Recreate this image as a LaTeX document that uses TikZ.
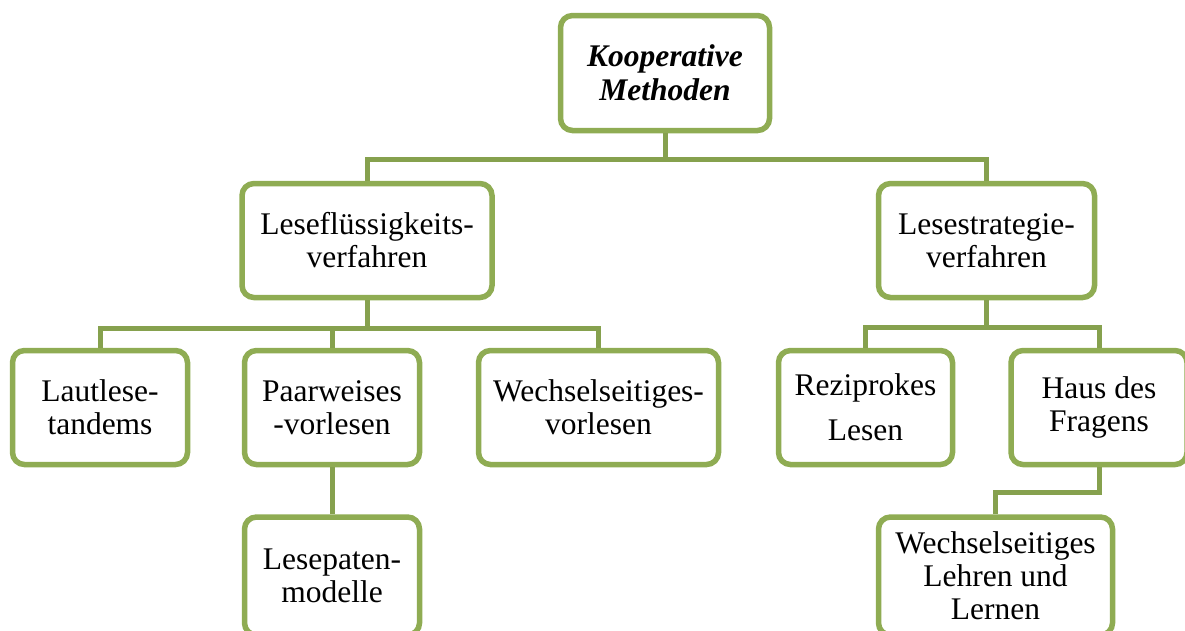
\documentclass[tikz,border=0pt]{standalone}
\usepackage{fontspec}
\setmainfont{Liberation Serif}
\usetikzlibrary{shapes,arrows}

\definecolor{boxgreen}{RGB}{143,172,83}
\definecolor{linegreen}{RGB}{134,161,78}

\tikzset{
    box/.style={draw=boxgreen, line width=5.5pt, rounded corners=12pt, fill=white,
        align=center, inner sep=2pt, minimum height=114pt,
        font=\fontsize{31.5}{33}\selectfont},
    link/.style={linegreen, line width=5pt},
}

\begin{document}
\begin{tikzpicture}[x=1pt, y=-1pt]
        \useasboundingbox (0,0) rectangle (1185,630);
        % Draw boxes
        \node [box, minimum width=209pt, minimum height=115pt,
               font=\fontsize{31.5}{34}\selectfont\bfseries\itshape] (top) at (665,73) {Kooperative\\Methoden};
        \node [box, minimum width=250pt] (lf) at (367,240.5) {Leseflüssigkeits-\\verfahren};
        \node [box, minimum width=216pt] (ls) at (986.5,240.5) {Lesestrategie-\\verfahren};
        \node [box, minimum width=175pt] (lt) at (100,407.5) {Lautlese-\\tandems};
        \node [box, minimum width=175pt] (pw) at (332,407.5) {Paarweises\\-vorlesen};
        \node [box, minimum width=240pt] (ws) at (598.5,407.5) {Wechselseitiges-\\vorlesen};
        \node [box, minimum width=174pt] (rl) at (865.5,407.5) {Reziprokes\\[12pt]Lesen};
        \node [box, minimum width=176pt] (hf) at (1099,407.5) {Haus des\\Fragens};
        \node [box, minimum width=175pt, minimum height=118pt] (lp) at (332,576) {Lesepaten-\\modelle};
        \node [box, minimum width=234pt, minimum height=118pt] (wl) at (995.5,576) {Wechselseitiges\\Lehren und\\Lernen};
        % Draw connectors
        \draw [link] (top.south) -- +(0,26.5) -| (lf.north);
        \draw [link] (top.south) -- +(0,26.5) -| (ls.north);
        \draw [link] (lf.south) -- +(0,28) -| (lt.north);
        \draw [link] (lf.south) -- +(0,28) -| (pw.north);
        \draw [link] (lf.south) -- +(0,28) -| (ws.north);
        \draw [link] (pw.south) -- (lp.north);
        \draw [link] (ls.south) -- +(0,27.5) -| (rl.north);
        \draw [link] (ls.south) -- +(0,27.5) -| (hf.north);
        \draw [link] (hf.south) -- +(0,25) -| (wl.north);
\end{tikzpicture}
\end{document}
